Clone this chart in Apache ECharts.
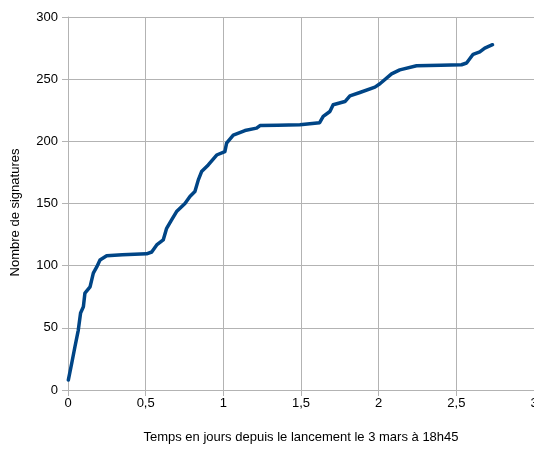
<!DOCTYPE html>
<html>
<head>
<meta charset="utf-8">
<script src="https://cdn.jsdelivr.net/npm/echarts@6/dist/echarts.min.js"></script>
<style>html,body{margin:0;padding:0;background:#fff}#c{width:534px;height:462px}</style>
</head>
<body>
<div id="c"></div>
<script>
const days = [0.002,0.024,0.045,0.066,0.081,0.099,0.109,0.142,0.163,0.185,0.206,0.249,0.35,0.506,0.539,0.571,0.613,0.635,0.667,0.699,0.753,0.785,0.817,0.839,0.86,0.903,0.957,1.01,1.021,1.032,1.064,1.085,1.139,1.214,1.236,1.35,1.493,1.62,1.643,1.654,1.686,1.707,1.783,1.815,1.879,1.976,2.008,2.083,2.136,2.244,2.4,2.533,2.566,2.608,2.651,2.683,2.733];
const signatures = [8,21.5,35,48,62,67,78,83,94,99,104.6,108,108.7,109.5,111,116.7,120.7,130,136.8,143.5,150,155.6,159.6,169,175.7,181,189,191.8,198.5,199,205,206,208.7,210.6,212.7,213,213.3,215,220,221,224,229.4,232,236.6,239.3,243.6,246.3,254.3,257.5,260.8,261.2,261.6,263,270,272,275,277.7];
const xTicks = [0,0.5,1,1.5,2,2.5,3];
const yTicks = [0,50,100,150,200,250,300];
const xTitle = 'Temps en jours depuis le lancement le 3 mars à 18h45';
const yTitle = 'Nombre de signatures';

const chart = echarts.init(document.getElementById('c'), null, {renderer:'canvas'});
const font = 'Liberation Sans';
chart.setOption({
  animation:false,
  backgroundColor:'#ffffff',
  grid:{left:68,right:0,top:17,bottom:72,containLabel:false,outerBoundsMode:'none'},
  xAxis:{
    type:'value',min:0,max:3,interval:0.5,
    name:xTitle,nameLocation:'middle',nameGap:41,
    nameTextStyle:{fontFamily:font,fontSize:13,color:'#000'},
    axisLine:{show:true,lineStyle:{color:'#b3b3b3'}},
    axisTick:{show:true,length:6,lineStyle:{color:'#b3b3b3'}},
    axisLabel:{fontFamily:font,fontSize:13,color:'#000',margin:7,
      formatter:v=>String(v).replace('.',',')},
    splitLine:{show:true,lineStyle:{color:'#b3b3b3',width:1}}
  },
  yAxis:{
    type:'value',min:0,max:300,interval:50,
    name:yTitle,nameLocation:'middle',nameGap:46,nameRotate:90,
    nameTextStyle:{fontFamily:font,fontSize:13,color:'#000',padding:[0,18,0,0]},
    axisLine:{show:true,lineStyle:{color:'#b3b3b3'}},
    axisTick:{show:true,length:6,lineStyle:{color:'#b3b3b3'}},
    axisLabel:{fontFamily:font,fontSize:13,color:'#000',margin:10},
    splitLine:{show:true,lineStyle:{color:'#b3b3b3',width:1}}
  },
  series:[{
    type:'line',
    data:days.map((d,i)=>[d,signatures[i]]),
    showSymbol:false,symbol:'none',
    lineStyle:{color:'#004586',width:3.5,join:'round',cap:'round'},
    z:3
  }]
});
</script>
</body>
</html>
